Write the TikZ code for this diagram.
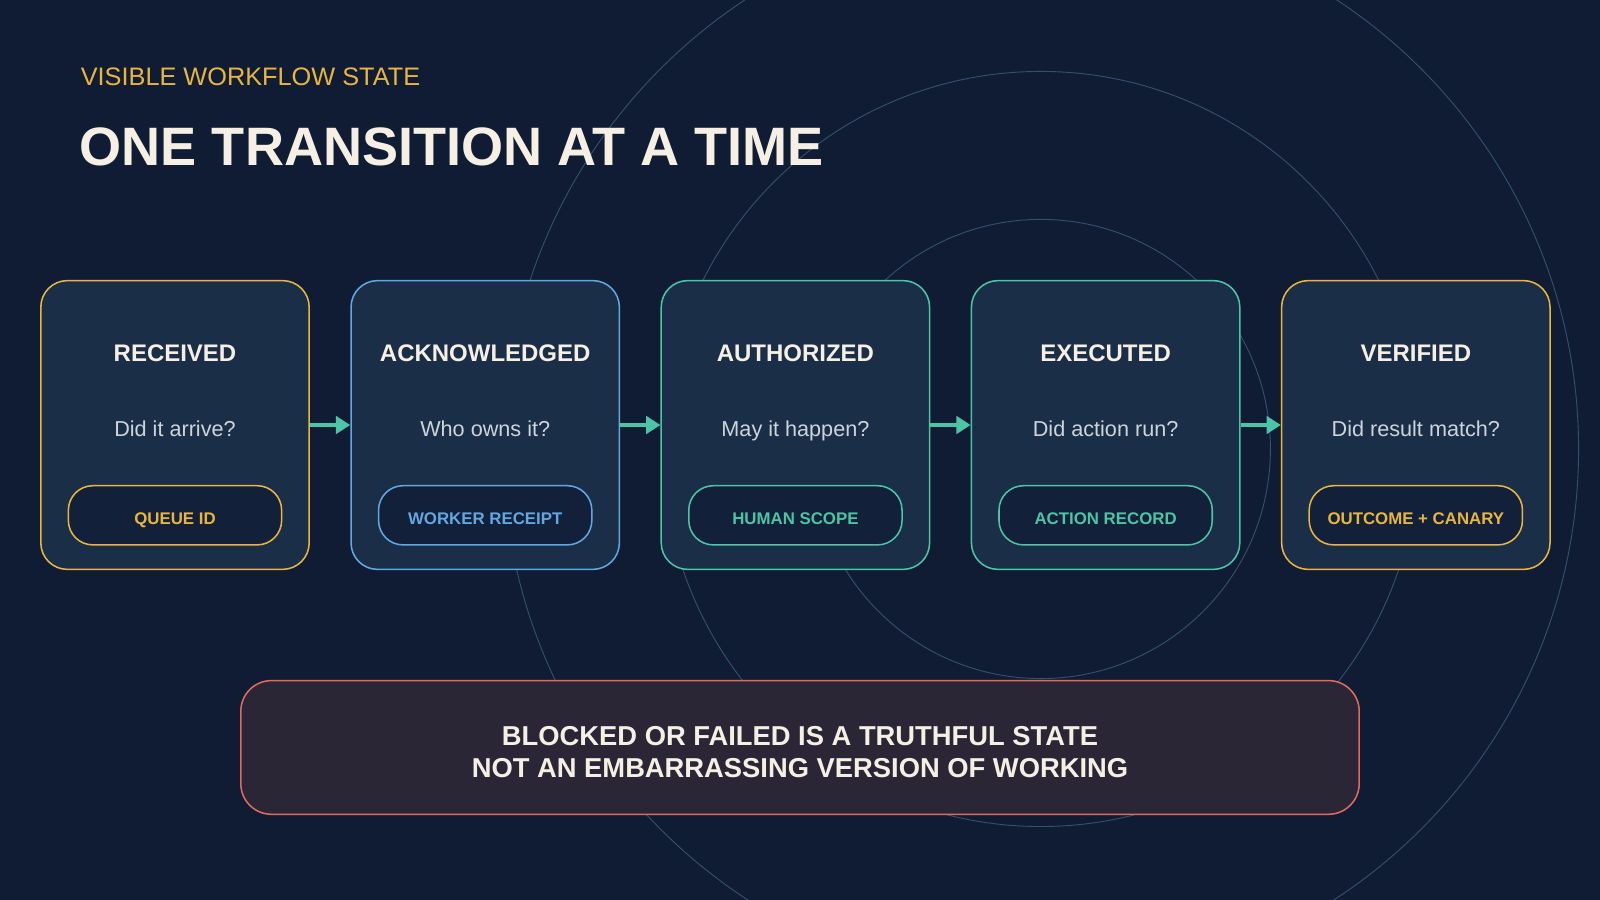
\documentclass[tikz,border=0pt]{standalone}
\usepackage{fontspec}
\setmainfont{Liberation Sans}
\usetikzlibrary{arrows.meta}
\definecolor{bg}{HTML}{101C34}
\definecolor{boxfill}{HTML}{1B2E48}
\definecolor{pillfill}{HTML}{12203A}
\definecolor{bannerfill}{HTML}{2A2636}
\definecolor{gold}{HTML}{E8B63F}
\definecolor{skyblue}{HTML}{62A8E0}
\definecolor{teal}{HTML}{4BC5A5}
\definecolor{coral}{HTML}{E06A5C}
\definecolor{cream}{HTML}{F5EFE4}
\definecolor{softgray}{HTML}{CDD4DB}
\definecolor{ring}{HTML}{33506E}
\tikzset{
  statebox/.style={draw=#1, line width=1.5pt, fill=boxfill, rounded corners=26pt,
    minimum width=263pt, minimum height=283pt, inner sep=0pt},
  pill/.style={draw=#1, line width=1.5pt, fill=pillfill, rounded corners=24pt,
    minimum width=209pt, minimum height=58pt, inner sep=0pt},
  pilltext/.style={text=#1, font=\bfseries\fontsize{16.5}{17}\selectfont},
  stitle/.style={text=cream, font=\bfseries\fontsize{23.5}{25}\selectfont},
  squest/.style={text=softgray, font=\fontsize{21.2}{23}\selectfont},
  flow/.style={draw=teal, line width=4pt, -{Triangle[length=14pt,width=17pt]}},
  ringline/.style={draw=ring, line width=0.9pt},
}
\begin{document}
\begin{tikzpicture}[x=1pt,y=-1pt]
\useasboundingbox (0,0) rectangle (1568,882);
\fill[bg] (0,0) rectangle (1568,882);
\begin{scope}
\clip (0,0) rectangle (1568,882);
\draw[ringline] (1020,440) circle[radius=225];
\draw[ringline] (1020,440) circle[radius=370];
\draw[ringline] (1020,440) circle[radius=527];
\end{scope}
% titles
\node[anchor=base west, inner sep=0pt, text=gold, font=\fontsize{24.8}{26}\selectfont] (kicker) at (79,83.5) {VISIBLE WORKFLOW STATE};
\node[anchor=base west, inner sep=0pt, text=cream, font=\bfseries\fontsize{53}{55}\selectfont] (headline) at (78,162.5) {ONE TRANSITION AT A TIME};
% boxes
\foreach \i/\cx/\col/\ttl/\q/\tag in {
  1/171.5/gold/RECEIVED/Did it arrive?/QUEUE ID,
  2/475.5/skyblue/ACKNOWLEDGED/Who owns it?/WORKER RECEIPT,
  3/779.5/teal/AUTHORIZED/May it happen?/HUMAN SCOPE,
  4/1083.5/teal/EXECUTED/Did action run?/ACTION RECORD,
  5/1387.5/gold/VERIFIED/Did result match?/OUTCOME + CANARY} {
  \node[statebox=\col] (b\i) at (\cx,416.5) {};
  \node[stitle, anchor=base] (t\i) at (\cx,354) {\ttl};
  \node[squest, anchor=base] (q\i) at (\cx,428) {\q};
  \node[pill=\col] (p\i) at (\cx,505) {};
  \node[pilltext=\col, anchor=base] (l\i) at (\cx,514) {\tag};
}
\draw[flow] (b1.east) -- (b2.west);
\draw[flow] (b2.east) -- (b3.west);
\draw[flow] (b3.east) -- (b4.west);
\draw[flow] (b4.east) -- (b5.west);
% banner
\node[draw=coral, line width=1.5pt, fill=bannerfill, rounded corners=30pt,
  minimum width=1096pt, minimum height=131pt, inner sep=0pt] (banner) at (784,732.5) {};
\node[text=cream, font=\bfseries\fontsize{26.8}{32}\selectfont, align=center] (bannertext) at (784,737)
  {BLOCKED OR FAILED IS A TRUTHFUL STATE\\NOT AN EMBARRASSING VERSION OF WORKING};
\end{tikzpicture}
\end{document}
